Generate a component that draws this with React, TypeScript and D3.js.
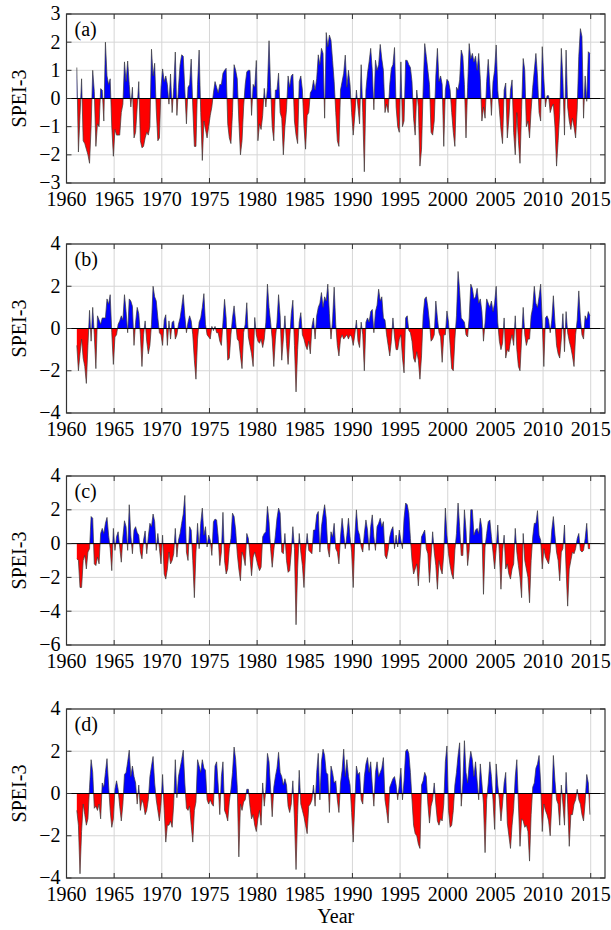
import React from 'react';
import * as d3 from 'd3';

// SPEI-3 values, one row per year from 1961, six samples per year (roughly every two months)
const startYear = 1961;
const samplesPerYear = 6;

const speiA = [
  [1.1, -1.9, -0.6, 0.7, -1.5, -1.6], [-1.8, -2.0, -2.3, -1.0, 1.0, 0.25], [-1.7, -0.9, -1.0, 0.35, 0.3, -0.8],
  [2.0, 0.8, 0.5, 0.7, -1.0, -2.05], [-1.1, -1.3, -1.3, -1.3, -0.5, -0.2], [1.3, 0.6, 1.33, 0.5, -0.3, 0.4],
  [-1.4, -1.2, -0.3, 0.6, -1.5, -1.75], [-1.7, -1.4, -1.2, -1.3, -1.0, 1.75], [0.8, 1.25, -0.4, -1.5, -1.4, 0.4],
  [1.05, 0.6, 0.8, 0.5, -0.2, 0.87], [-0.5, 0.4, 1.65, -0.6, 0.4, 1.2], [1.55, 1.5, 0.3, -0.9, 0.4, 0.5],
  [1.4, -0.3, -1.7, -1.7, 0.5, 1.72], [-0.5, -2.2, -0.8, -1.1, -1.4, -1.0], [-0.6, -0.3, 0.2, 0.6, 0.4, 0.2],
  [0.5, 0.5, 0.9, 1.0, 1.07, -0.9], [-1.4, -1.6, -0.5, 1.2, 1.0, 0.7], [-0.8, -2.0, -1.5, -0.3, 0.5, 0.95],
  [1.0, 1.0, -0.6, 0.5, 0.4, 1.35], [-1.5, -0.9, -1.1, -0.6, 0.36, -0.3], [0.4, 2.05, 0.4, -1.0, -1.5, 0.3],
  [0.3, 0.9, -0.5, -0.7, -2.0, -1.0], [-0.4, 0.8, 0.4, 0.8, 0.87, -0.8], [-1.3, -1.6, 0.6, 0.8, 0.3, -1.0],
  [-1.8, -0.6, -0.5, 0.2, 0.3, 0.65], [0.3, 0.7, 1.55, 1.2, 1.78, 1.6], [-0.7, 2.34, 1.84, 2.25, 2.07, 1.35],
  [0.6, -0.5, -1.5, -1.7, 0.3, 0.6], [0.9, 1.54, 0.4, 1.0, 0.5, -0.5], [-1.3, -0.6, 0.3, -0.3, -0.9, 1.2],
  [-0.5, -2.6, 0.3, 0.9, 1.3, 1.78], [1.0, -0.4, 1.36, 1.0, 1.2, 1.92], [1.4, 1.0, -0.5, -0.2, -0.5, 0.5],
  [1.07, 1.2, 1.81, -0.3, -1.0, -1.2], [1.3, -1.0, -0.8, 1.36, 1.35, 1.2], [1.1, 0.6, -0.7, -1.3, 0.3, -0.3],
  [-2.4, -1.8, 0.3, 1.95, 1.5, 1.0], [0.5, -1.2, -1.3, -0.8, 0.8, 1.78], [0.6, 0.8, 0.5, -1.7, 0.3, 0.68],
  [0.6, 0.3, -0.5, -1.2, -1.7, 0.4], [0.3, 0.66, 1.72, 1.5, 0.5, -1.4], [0.4, 1.95, 1.4, 1.6, 1.3, 1.5],
  [1.0, 1.6, 0.7, -0.8, -0.3, -0.7], [0.6, 1.39, 0.5, -0.6, 0.6, 1.0], [1.9, 0.3, -0.4, -1.1, -1.6, 0.3],
  [0.55, -1.4, -0.7, 0.3, 0.66, -1.2], [-2.0, -0.5, -1.5, -2.3, -0.4, 1.42], [1.0, -1.0, -0.8, -1.4, -0.4, 0.4],
  [1.0, 1.6, 0.8, -0.5, -0.8, 1.84], [0.7, -0.3, 0.1, 0.1, -0.5, -0.3], [-0.2, -1.0, -2.4, -1.5, -0.5, 1.78],
  [0.7, -1.3, 1.72, -0.3, -0.8, -1.1], [-0.7, -1.0, -1.4, -0.4, 1.5, 2.48], [2.2, -0.7, 0.8, -0.1, 1.66, 1.6],
];

const speiB = [
  [-0.8, -2.0, -1.2, -0.5, -1.4, -1.8], [-2.6, -0.8, 0.86, -0.6, 1.0, -0.3], [-1.9, 0.6, 0.4, 0.2, 0.5, 0.5],
  [0.5, 1.4, 1.15, 1.6, -0.2, -1.7], [-0.4, -0.3, 0.2, 0.36, 0.6, 0.4], [1.6, 0.8, -0.2, 1.4, 1.3, 1.05],
  [-0.8, 0.3, 1.0, 0.7, -0.3, -1.8], [-0.3, 0.36, -0.6, -1.2, -0.8, 0.2], [2.0, 1.5, 1.3, 0.5, -0.2, -0.3],
  [-0.8, 0.4, 0.65, -0.8, 0.36, -0.5], [0.3, 0.36, -0.5, -0.3, 0.2, 0.5], [1.0, 1.6, 0.6, -0.2, 0.3, 0.6],
  [0.36, -0.3, -1.5, -2.4, -0.5, 0.3], [0.5, 1.0, 1.65, 0.2, -0.3, -0.4], [-0.5, 0.1, -0.1, 0.1, -0.2, -0.2],
  [-0.6, -0.8, 0.3, 1.38, 0.5, -1.5], [-1.4, -0.3, 0.5, 1.07, 0.3, -0.5], [-0.6, -1.3, -1.9, -0.2, 0.2, 1.22],
  [-0.4, -0.8, -1.2, -1.8, 0.52, -0.3], [-0.6, -0.7, -0.5, -0.9, -0.5, 0.3], [2.1, 1.0, 0.3, -0.5, -1.8, -0.5],
  [0.3, 1.6, 0.6, -1.5, -0.5, 0.6], [-0.7, -1.7, -0.5, 0.7, 1.34, -0.8], [-3.0, -1.0, 0.3, 0.75, -0.3, -0.5],
  [-0.8, -1.0, -0.6, -1.2, 0.1, 0.5], [-0.5, 0.6, 1.0, 1.2, 1.7, 1.0], [1.5, 1.3, 2.1, 0.7, -0.5, 0.4],
  [1.96, 0.2, -0.8, -1.3, -0.5, -0.3], [-0.5, -0.4, -0.3, -0.5, -0.3, -0.4], [-0.8, -0.3, 0.4, -0.6, -0.9, 0.3],
  [-0.3, -2.0, 0.3, 0.5, 0.3, 0.8], [0.9, -0.2, 0.8, 1.1, 1.86, 1.3], [1.5, 0.5, 0.4, -0.3, -0.8, -1.3],
  [-0.6, 0.5, -0.4, -1.0, -1.0, -0.5], [-0.3, -1.4, -2.1, 0.5, 0.6, -0.1], [-0.2, -0.6, -1.4, -1.6, -1.1, -1.5],
  [-2.4, -1.3, 0.6, 1.4, 1.5, 1.0], [0.3, -0.6, -0.5, -0.3, 1.3, 0.5], [-0.2, -0.4, -1.6, -0.3, -0.3, 0.83],
  [0.3, -0.8, -1.9, -2.0, -0.5, 0.6], [2.7, 1.8, 0.5, 0.4, 0.3, -0.3], [-0.4, 0.5, 2.1, 1.9, 1.4, 1.5],
  [1.9, 1.2, 1.4, 0.8, -0.6, 0.3], [1.4, 1.2, 1.0, 1.3, 0.8, 1.2], [2.0, 0.3, -0.6, -1.0, -0.7, 0.5],
  [-1.4, -1.0, -1.1, -0.6, -0.3, -0.8], [0.6, -1.0, -1.8, -2.0, -0.5, 1.0], [-0.3, -0.8, -0.5, -0.5, 0.6, 1.0],
  [2.0, 1.2, 1.0, 1.5, 2.1, 0.3], [-1.8, 0.5, 0.6, 0.4, -0.2, 0.4], [1.55, 0.3, -0.8, -1.2, -1.4, -0.5],
  [0.7, -1.1, 0.8, -0.2, -0.6, -0.9], [-1.3, -1.8, -0.3, 0.4, 1.78, 0.5], [-0.3, -0.5, 0.6, 0.4, 0.8, 0.6],
];

const speiC = [
  [-0.9, -1.0, -2.6, -2.6, -1.0, -0.7], [-1.5, -0.5, -0.3, 1.6, 1.5, -1.2], [-1.3, -0.8, -1.2, 0.6, 0.9, 0.6],
  [1.2, 1.55, 0.5, -0.3, -1.6, 0.9], [-0.4, 0.4, 0.7, -0.2, -1.1, 0.4], [1.35, 1.0, -0.4, 2.3, 0.5, -0.6],
  [0.8, 1.0, 0.65, 0.5, -0.5, -0.9], [0.2, 0.75, -0.6, 0.4, 1.2, 1.0], [1.75, 1.3, -0.4, 0.6, -0.3, -1.2],
  [0.5, -1.8, -2.1, -1.5, -0.5, -1.2], [-1.0, -0.6, 0.9, -0.8, 0.2, 0.6], [1.2, 1.75, 2.85, -0.5, -1.0, 1.0],
  [0.8, -1.0, -3.2, -0.5, 1.2, -0.3], [1.2, 2.1, 0.5, 1.0, -0.2, 0.5], [0.2, -0.7, 1.3, 1.45, 1.4, 0.4],
  [-1.3, -0.5, 1.85, -1.0, -1.8, -1.5], [-0.3, 0.3, 1.8, 1.6, 0.8, -0.6], [-1.5, -2.2, -0.5, -0.8, -1.3, 0.6],
  [0.3, -0.8, -1.9, -0.8, -0.5, -0.9], [-1.3, -1.6, -1.4, 0.4, 0.6, 0.7], [2.2, 1.3, -0.3, -1.4, -0.4, 0.5],
  [1.5, 2.1, 1.8, -0.5, -0.6, 0.6], [-1.0, -1.7, -1.6, -0.5, 1.0, -0.3], [-4.8, -1.5, 0.6, -0.5, -1.3, -2.6],
  [-0.5, 0.6, -0.4, -0.5, -0.6, 0.8], [0.8, 1.7, 1.9, -0.5, 1.0, 1.7], [2.3, 1.5, -0.3, -0.8, 0.7, 0.4],
  [1.2, -0.3, -0.5, -1.2, 0.4, 1.5], [0.6, -0.3, 0.5, 1.5, 0.4, -0.5], [-2.6, 0.4, 2.0, 0.8, 0.5, -0.2],
  [-0.5, 0.6, 1.4, 0.8, -0.4, 1.0], [1.7, 0.4, -0.4, 1.0, 1.2, 1.5], [1.0, 1.3, -0.7, -0.9, -0.4, 0.4],
  [0.8, 1.0, -0.3, 0.5, -0.2, 0.8], [0.2, -0.3, 1.5, 2.4, 2.3, 1.8], [0.3, -1.0, -1.8, -1.5, -1.2, -2.5],
  [-1.0, 0.4, 0.6, 0.8, -0.3, -0.6], [-2.3, -0.8, 0.7, -0.5, -1.3, -2.7], [-1.0, -1.5, -1.8, -0.6, 2.1, 0.5],
  [-0.6, -1.3, -1.8, -2.1, -0.4, 0.6], [2.4, 1.0, -0.7, -0.7, 2.0, 0.8], [-1.3, -0.4, 2.0, 2.0, 0.5, 0.8],
  [0.9, 0.6, 1.5, 0.9, -3.0, -0.2], [0.6, 1.3, 1.4, 0.4, -0.5, -1.5], [-0.3, 1.1, -0.6, -2.7, -0.5, 0.5],
  [-1.5, -1.2, -1.8, -2.1, -1.5, -1.2], [0.9, -0.5, -1.3, -2.0, -3.2, 0.6], [-1.0, -1.5, -2.0, -3.5, -1.0, 0.4],
  [1.2, 1.2, 1.95, 0.5, 0.2, -1.5], [-0.3, -0.8, -1.0, -1.2, -0.5, 0.8], [1.6, 0.5, -0.5, -1.0, -2.2, -0.5],
  [-0.3, 1.1, -1.5, -3.7, -1.5, -1.0], [-0.5, -0.6, -0.3, 0.3, 0.6, -0.4], [-0.5, -0.4, 0.3, 1.2, -0.3, -0.3],
];

const speiD = [
  [-0.8, -1.5, -3.8, -1.8, -0.5, -1.0], [-1.5, -1.2, 0.3, 1.6, 1.0, -0.7], [-0.6, -0.8, -0.5, -1.2, 0.5, 0.3],
  [1.0, 1.65, 0.4, -0.8, -1.6, -1.2], [0.2, 0.6, 0.2, -0.6, -1.3, -0.5], [0.9, 1.0, 1.5, 2.05, 0.8, 1.3],
  [0.8, 0.5, -0.5, 0.4, -0.8, -0.3], [-0.5, -1.0, -0.8, -0.3, 0.8, 1.3], [1.75, 0.5, -0.3, -0.8, -1.3, -0.5],
  [0.9, -0.8, -2.3, -1.5, -1.5, -1.3], [-1.6, -0.5, 1.6, -0.2, 0.8, 1.2], [1.6, 2.05, 0.5, -0.7, -0.8, -0.6],
  [-1.5, -2.3, -0.8, -0.4, 1.6, 1.3], [1.0, 1.6, 1.2, 1.1, -0.3, -0.5], [-0.3, -0.5, -0.6, 1.3, 1.5, 0.4],
  [-1.0, 0.8, 1.5, -0.8, -1.0, -1.3], [-0.4, 0.2, 1.0, 2.2, 1.6, 0.3], [-3.0, -0.5, -0.8, -0.4, -0.3, 0.2],
  [0.2, -0.6, -1.2, -1.0, -1.5, -1.8], [-1.2, -0.8, -1.5, 0.5, -0.6, 0.2], [1.9, 1.5, 0.2, -1.1, 0.3, 0.8],
  [1.2, 1.95, 1.0, 0.8, 0.4, 0.7], [0.4, -0.6, -0.9, -0.5, 0.6, -1.2], [-3.6, -1.0, 1.1, -0.5, -0.8, -1.1],
  [-1.5, -1.9, -0.6, -0.5, -0.3, 0.4], [-0.6, 1.0, 1.9, -0.3, 1.5, 2.1], [1.8, 1.0, 0.9, -0.9, 1.3, 1.0],
  [0.5, 0.6, -0.3, -0.9, 0.5, 1.1], [2.1, 0.8, 1.6, 0.8, 0.4, -0.9], [-2.3, -0.5, 1.3, 0.9, 1.0, -0.3],
  [-0.5, 0.8, 1.4, 1.7, 1.0, 1.5], [0.4, -0.6, 1.0, 1.5, 0.8, 1.0], [1.2, 1.7, -0.3, -0.8, -1.4, 0.3],
  [0.5, 0.7, 0.8, 0.4, -0.3, 0.4], [1.2, -0.3, 0.6, 2.0, 2.1, 1.9], [1.0, -0.3, -1.5, -1.9, -2.0, -2.4],
  [-2.6, 0.4, 0.6, 1.0, 0.8, -0.5], [-1.4, -0.6, -0.3, 0.5, -0.5, -1.3], [-1.5, -1.2, -1.3, -0.5, 1.5, 2.25],
  [-0.8, -1.6, -1.5, -0.8, 0.4, 1.0], [1.8, 2.4, -0.6, 0.5, 2.5, 1.0], [0.5, 1.4, 2.0, 1.6, 0.8, 1.5],
  [0.6, -0.3, 1.4, 0.5, -0.5, -2.8], [-0.3, 0.5, 1.5, 0.8, -0.3, -1.7], [1.4, 0.4, -0.3, -1.3, -0.5, 0.5],
  [1.0, -1.4, -2.0, -2.6, -1.5, -0.7], [0.8, 1.6, -0.5, -2.5, -1.2, -1.3], [-1.6, -1.5, -1.8, -3.2, -1.0, 0.3],
  [0.5, 1.2, 1.4, 1.8, 0.5, -1.8], [-0.5, -0.8, -1.0, -1.3, -2.0, -0.5], [1.8, 0.6, -0.3, -0.5, -1.5, 0.4],
  [-0.5, -1.5, 1.0, -0.5, -2.5, -1.0], [-1.0, -0.5, -0.3, 0.2, -0.3, -0.5], [-1.0, -1.3, -0.4, 0.9, 0.5, -1.0],
];

const xTicks = [1960, 1965, 1970, 1975, 1980, 1985, 1990, 1995, 2000, 2005, 2010, 2015];
const yTicksA = [-3, -2, -1, 0, 1, 2, 3];
const yTicksB = [-4, -2, 0, 2, 4];
const yTicksC = [-6, -4, -2, 0, 2, 4];
const yTicksD = [-4, -2, 0, 2, 4];
const labels = ['(a)', '(b)', '(c)', '(d)'];

const panels = [
  { label: labels[0], data: speiA, ticks: yTicksA, top: 14 },
  { label: labels[1], data: speiB, ticks: yTicksB, top: 244 },
  { label: labels[2], data: speiC, ticks: yTicksC, top: 476 },
  { label: labels[3], data: speiD, ticks: yTicksD, top: 709 },
];

const W = 611;
const H = 930;
const left = 66.5;
const right = 605;
const panelH = 169;
const font = "'Liberation Serif', 'Times New Roman', serif";

const x = d3.scaleLinear().domain([1960, 2016.5]).range([left, right]);

const Panel = ({ p, i }) => {
  const bottom = p.top + panelH;
  const y = d3.scaleLinear().domain([p.ticks[0], p.ticks[p.ticks.length - 1]]).range([bottom, p.top]);
  const pts = p.data.flat().map((v, k) => ({ t: startYear + (k + 0.5) / samplesPerYear, v }));
  const y0 = y(0);
  const area = d3.area().x(d => x(d.t)).y0(y0).y1(d => y(d.v));
  const line = d3.line().x(d => x(d.t)).y(d => y(d.v));
  const areaPath = area(pts);

  return (
    <g>
      <defs>
        <clipPath id={`pos-${i}`}><rect x={left} y={p.top} width={right - left} height={y0 - p.top} /></clipPath>
        <clipPath id={`neg-${i}`}><rect x={left} y={y0} width={right - left} height={bottom - y0} /></clipPath>
      </defs>
      {xTicks.map(t => (
        <line key={'gx' + t} x1={x(t)} x2={x(t)} y1={p.top} y2={bottom} stroke="#d6d6d6" strokeWidth={1} />
      ))}
      {p.ticks.map(t => (
        <line key={'gy' + t} x1={left} x2={right} y1={y(t)} y2={y(t)} stroke="#d6d6d6" strokeWidth={1} />
      ))}
      <path d={areaPath} fill="#0000ff" clipPath={`url(#pos-${i})`} />
      <path d={areaPath} fill="#ff0000" clipPath={`url(#neg-${i})`} />
      <path d={line(pts)} fill="none" stroke="#3a3a3a" strokeWidth={0.7} />
      <line x1={left} x2={right} y1={y0} y2={y0} stroke="#000" strokeWidth={1} />
      {xTicks.map(t => (
        <g key={'tx' + t}>
          <line x1={x(t)} x2={x(t)} y1={bottom} y2={bottom - 5} stroke="#333" />
          <line x1={x(t)} x2={x(t)} y1={p.top} y2={p.top + 5} stroke="#333" />
          <text x={x(t)} y={bottom + 23} textAnchor="middle" fontFamily={font} fontSize={20}>{t}</text>
        </g>
      ))}
      {p.ticks.map(t => (
        <g key={'ty' + t}>
          <line x1={left} x2={left + 5} y1={y(t)} y2={y(t)} stroke="#333" />
          <line x1={right} x2={right - 5} y1={y(t)} y2={y(t)} stroke="#333" />
          <text x={left - 6} y={y(t)} dy="0.32em" textAnchor="end" fontFamily={font} fontSize={20}>
            {t < 0 ? '\u2212' + Math.abs(t) : t}
          </text>
        </g>
      ))}
      <rect x={left} y={p.top} width={right - left} height={panelH} fill="none" stroke="#333" strokeWidth={1.2} />
      <text x={left + 8} y={p.top + 22} fontFamily={font} fontSize={20}>{p.label}</text>
      <text transform={`translate(26,${(p.top + bottom) / 2}) rotate(-90)`} textAnchor="middle" fontFamily={font} fontSize={20}>
        SPEI-3
      </text>
    </g>
  );
};

const App = () => {
  return (
    <div style={{ position: 'absolute', left: 0, top: 0 }}>
      <svg width={W} height={H} style={{ display: 'block', background: '#fff' }}>
        {panels.map((p, i) => <Panel key={p.label} p={p} i={i} />)}
        <text x={(left + right) / 2} y={923} textAnchor="middle" fontFamily={font} fontSize={20}>Year</text>
      </svg>
    </div>
  );
};

export default App;
